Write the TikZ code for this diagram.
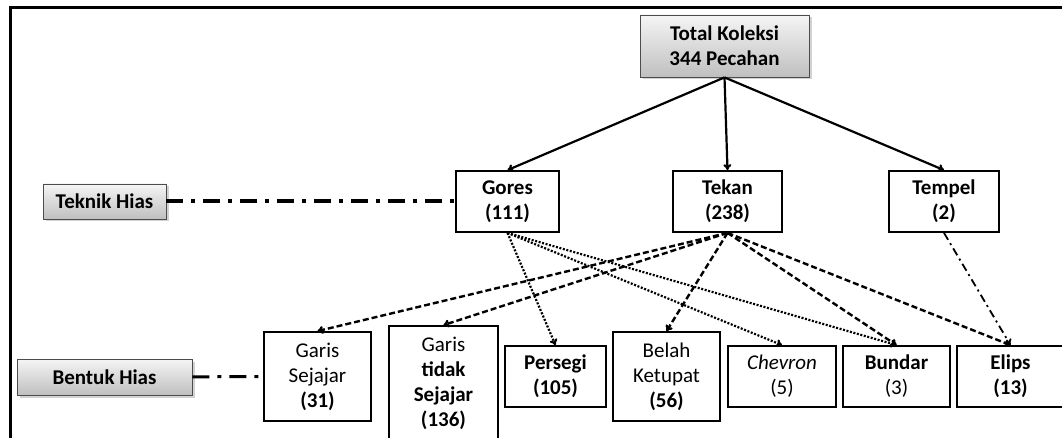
\documentclass[tikz,border=0pt]{standalone}
\usepackage{fontspec}
\setmainfont{Carlito}
\usetikzlibrary{arrows.meta,shadows}
\def\rowgap{25pt}

\begin{document}
\begin{tikzpicture}[x=1pt,y=-1pt,>={To[length=6pt,width=8pt]},
  font=\fontsize{21}{\rowgap}\selectfont]
  \tikzstyle{grey box}=[draw=black!70,line width=0.8pt,top color=gray!8,bottom color=gray!50,
    drop shadow={shadow xshift=2.5pt,shadow yshift=-2.5pt,fill=black!35},
    align=center,inner sep=0pt,font=\fontsize{21}{\rowgap}\selectfont\bfseries]
  \tikzstyle{box}=[draw,line width=1.8pt,fill=white,align=center,inner sep=0pt]
  \tikzstyle{main arrow}=[->,line width=2.2pt]
  \tikzstyle{gores line}=[->,line width=2.2pt,dash pattern=on 2pt off 1.6pt]
  \tikzstyle{tekan line}=[->,line width=2.4pt,dash pattern=on 6pt off 3pt]
  \tikzstyle{tempel line}=[->,line width=1.8pt,dash pattern=on 8pt off 4pt on 2pt off 4pt]
  \tikzstyle{level line}=[line width=4pt,dash pattern=on 17pt off 8pt on 4pt off 8pt]

  \useasboundingbox (0,0) rectangle (1062,438);
  \draw[line width=3pt] (10,445) -- (10,8) -- (1070,8);

  % top
  \node[grey box,minimum width=169pt,minimum height=62pt] (total) at (724.5,46) {Total Koleksi\\344 Pecahan};

  % teknik hias
  \node[box,minimum width=103pt,minimum height=61pt,font=\fontsize{21}{\rowgap}\selectfont\bfseries] (gores) at (507.5,201.5) {Gores\\(111)};
  \node[box,minimum width=109pt,minimum height=61pt,font=\fontsize{21}{\rowgap}\selectfont\bfseries] (tekan) at (727.5,201.5) {Tekan\\(238)};
  \node[box,minimum width=110pt,minimum height=61pt,font=\fontsize{21}{\rowgap}\selectfont\bfseries] (tempel) at (944,201.5) {Tempel\\(2)};
  \node[grey box,minimum width=123pt,minimum height=35pt] (teknik) at (104.5,201.5) {Teknik Hias};

  % bentuk hias
  \node[grey box,minimum width=175pt,minimum height=36pt] (bentuk) at (104.5,377) {Bentuk Hias};
  \node[box,minimum width=107pt,minimum height=89pt] (gs) at (317.5,376.5) {Garis\\Sejajar\\\textbf{(31)}};
  \node[box,minimum width=109pt,minimum height=114pt] (gts) at (443.5,383) {Garis\\\textbf{tidak}\\\textbf{Sejajar}\\\textbf{(136)}};
  \node[box,minimum width=101pt,minimum height=61pt] (persegi) at (555.5,376.5) {\textbf{Persegi}\\\textbf{(105)}};
  \node[box,minimum width=107pt,minimum height=89pt] (bk) at (666.5,376.5) {Belah\\Ketupat\\\textbf{(56)}};
  \node[box,minimum width=108pt,minimum height=61pt] (chevron) at (782,376.5) {\textit{Chevron}\\(5)};
  \node[box,minimum width=107pt,minimum height=61pt] (bundar) at (896.5,376.5) {\textbf{Bundar}\\(3)};
  \node[box,minimum width=107pt,minimum height=61pt] (elips) at (1010.5,376.5) {\textbf{Elips}\\\textbf{(13)}};

  \draw[level line] (teknik) -- (gores);
  \draw[level line,line width=3pt] (bentuk) -- (gs);

  \foreach \dest in {gores,tekan,tempel}
    \draw[main arrow] (total.south) -- (\dest.north);

  \foreach \dest in {persegi,chevron,bundar}
    \draw[gores line] (gores.south) -- (\dest.north);

  \foreach \dest in {gs,gts,bk,bundar,elips}
    \draw[tekan line] (tekan.south) -- (\dest.north);

  \draw[tempel line] (tempel.south) -- (elips.north);

\end{tikzpicture}
\end{document}
